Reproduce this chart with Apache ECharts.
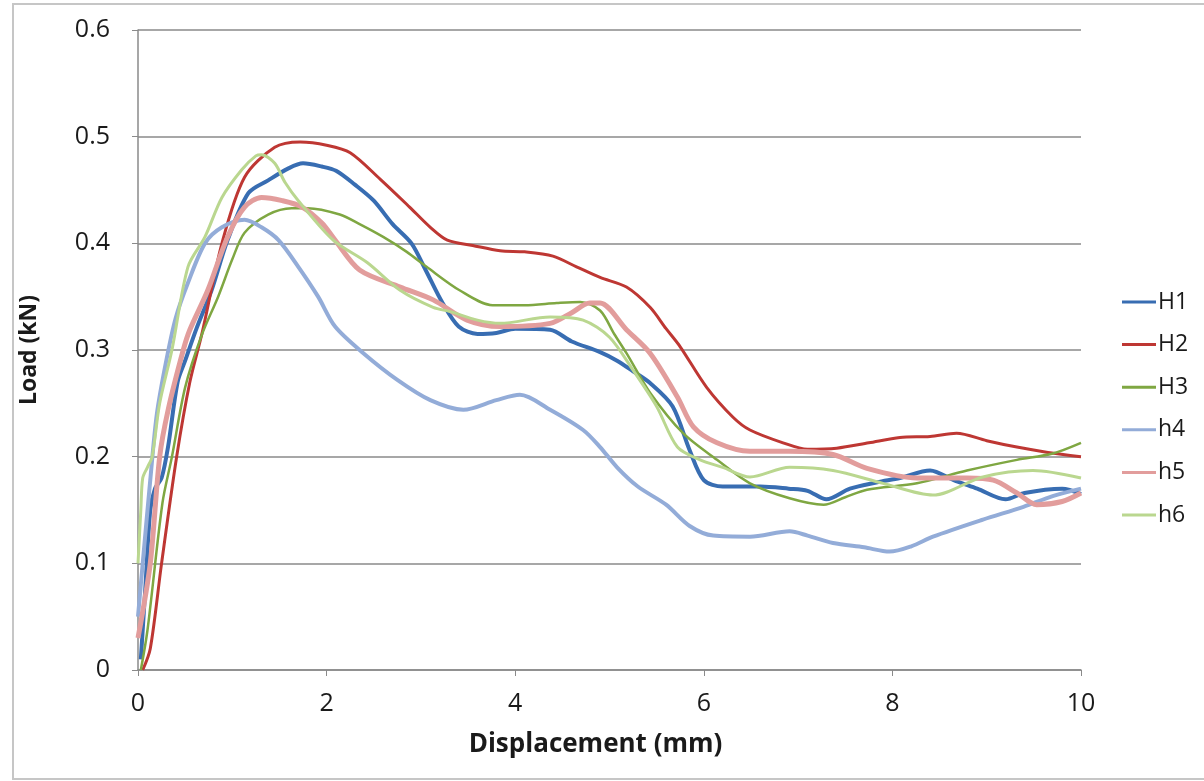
<!DOCTYPE html>
<html>
<head>
<meta charset="utf-8">
<script src="https://cdn.jsdelivr.net/npm/echarts@6/dist/echarts.min.js"></script>
<style>
  html, body { margin: 0; padding: 0; background: #fff; }
  #chart { width: 1204px; height: 781px; }
</style>
</head>
<body>
<div id="chart"></div>
<script>
// load–displacement curves, [displacement mm, load kN]
const seriesNames = ['H1', 'H2', 'H3', 'h4', 'h5', 'h6']
const seriesColors = ['#386db2', '#be3733', '#7fa742', '#93acd8', '#e29d9c', '#bad78f']
const seriesWidths = [4, 3, 2.5, 4, 5, 3]

const h1Data = [
  [0.03, 0.01], [0.08, 0.08], [0.13, 0.15], [0.18, 0.17], [0.25, 0.18], [0.32, 0.21],
  [0.42, 0.27], [0.5, 0.29], [0.62, 0.32], [0.78, 0.356], [0.95, 0.403], [1.17, 0.447],
  [1.38, 0.459], [1.59, 0.47], [1.75, 0.475], [1.95, 0.472], [2.1, 0.468], [2.3, 0.455],
  [2.5, 0.44], [2.7, 0.418], [2.9, 0.4], [3.05, 0.375], [3.23, 0.344], [3.4, 0.322],
  [3.6, 0.315], [3.8, 0.316], [4.0, 0.32], [4.37, 0.319], [4.6, 0.308], [4.9, 0.298],
  [5.08, 0.29], [5.25, 0.28], [5.43, 0.269], [5.67, 0.247], [5.85, 0.206], [6.0, 0.178],
  [6.2, 0.172], [6.6, 0.172], [6.9, 0.17], [7.1, 0.168], [7.3, 0.16], [7.55, 0.17],
  [7.84, 0.176], [8.08, 0.18], [8.4, 0.187], [8.65, 0.178], [8.9, 0.17], [9.2, 0.16],
  [9.4, 0.166], [9.8, 0.17], [10.0, 0.165]
]
const h2Data = [
  [0.05, 0.0], [0.13, 0.02], [0.25, 0.1], [0.41, 0.2], [0.55, 0.27], [0.68, 0.316],
  [0.89, 0.4], [1.13, 0.462], [1.45, 0.49], [1.72, 0.495], [2.0, 0.492], [2.25, 0.485],
  [2.57, 0.46], [2.88, 0.434], [3.1, 0.415], [3.28, 0.403], [3.55, 0.398], [3.84, 0.393],
  [4.1, 0.392], [4.4, 0.388], [4.65, 0.378], [4.9, 0.368], [5.18, 0.359], [5.43, 0.34],
  [5.6, 0.32], [5.75, 0.303], [6.03, 0.265], [6.31, 0.237], [6.49, 0.225], [6.84, 0.213],
  [7.1, 0.207], [7.41, 0.208], [7.75, 0.213], [8.08, 0.218], [8.4, 0.219], [8.68, 0.222],
  [9.0, 0.215], [9.32, 0.209], [9.65, 0.204], [10.0, 0.2]
]
const h3Data = [
  [0.03, 0.0], [0.1, 0.037], [0.26, 0.157], [0.36, 0.2], [0.5, 0.265], [0.68, 0.315],
  [0.85, 0.35], [1.0, 0.385], [1.13, 0.41], [1.38, 0.427], [1.63, 0.433], [1.8, 0.433],
  [2.14, 0.427], [2.35, 0.418], [2.6, 0.406], [2.85, 0.392], [3.06, 0.378], [3.41, 0.356],
  [3.76, 0.342], [4.1, 0.342], [4.44, 0.344], [4.69, 0.345], [4.9, 0.337], [5.05, 0.315],
  [5.18, 0.297], [5.43, 0.26], [5.78, 0.222], [6.14, 0.197], [6.49, 0.175], [6.91, 0.161],
  [7.27, 0.155], [7.5, 0.162], [7.73, 0.169], [8.26, 0.175], [8.79, 0.187], [9.32, 0.197],
  [9.7, 0.203], [10.0, 0.213]
]
const h4Data = [
  [0.0, 0.05], [0.05, 0.1], [0.13, 0.178], [0.2, 0.24], [0.3, 0.29], [0.4, 0.33],
  [0.53, 0.363], [0.71, 0.4], [0.89, 0.415], [1.13, 0.422], [1.31, 0.415], [1.49, 0.403],
  [1.7, 0.378], [1.91, 0.35], [2.09, 0.322], [2.39, 0.297], [2.75, 0.272], [3.1, 0.253],
  [3.45, 0.244], [3.8, 0.253], [4.05, 0.258], [4.37, 0.244], [4.72, 0.225], [4.9, 0.209],
  [5.08, 0.19], [5.3, 0.172], [5.6, 0.155], [5.85, 0.135], [6.1, 0.126], [6.49, 0.125],
  [6.91, 0.13], [7.1, 0.126], [7.37, 0.119], [7.7, 0.115], [7.97, 0.111], [8.2, 0.116],
  [8.43, 0.125], [8.96, 0.141], [9.39, 0.153], [9.7, 0.163], [10.0, 0.17]
]
const h5Data = [
  [0.0, 0.03], [0.13, 0.1], [0.23, 0.2], [0.32, 0.244], [0.48, 0.3], [0.55, 0.319],
  [0.74, 0.356], [0.95, 0.406], [1.13, 0.434], [1.31, 0.443], [1.53, 0.44], [1.74, 0.434],
  [1.95, 0.419], [2.09, 0.403], [2.35, 0.375], [2.78, 0.359], [3.13, 0.347], [3.49, 0.328],
  [3.84, 0.322], [4.37, 0.325], [4.6, 0.335], [4.79, 0.344], [4.9, 0.344], [5.18, 0.319],
  [5.43, 0.297], [5.72, 0.256], [5.89, 0.228], [6.14, 0.213], [6.49, 0.205], [6.9, 0.205],
  [7.37, 0.202], [7.73, 0.189], [8.26, 0.18], [8.79, 0.18], [9.07, 0.178], [9.32, 0.166],
  [9.53, 0.155], [9.8, 0.158], [10.0, 0.166]
]
const h6Data = [
  [0.0, 0.1], [0.03, 0.15], [0.05, 0.18], [0.1, 0.19], [0.15, 0.2], [0.23, 0.25],
  [0.36, 0.3], [0.53, 0.378], [0.71, 0.406], [0.89, 0.443], [1.1, 0.469], [1.25, 0.482],
  [1.31, 0.483], [1.45, 0.475], [1.56, 0.457], [1.7, 0.44], [2.07, 0.403], [2.43, 0.382],
  [2.78, 0.356], [3.13, 0.34], [3.31, 0.336], [3.6, 0.328], [3.84, 0.325], [4.37, 0.331],
  [4.72, 0.328], [5.0, 0.312], [5.25, 0.281], [5.5, 0.247], [5.72, 0.209], [5.96, 0.197],
  [6.2, 0.19], [6.49, 0.181], [6.91, 0.19], [7.37, 0.187], [7.9, 0.175], [8.43, 0.164],
  [8.96, 0.181], [9.49, 0.187], [10.0, 0.18]
]
const allData = [h1Data, h2Data, h3Data, h4Data, h5Data, h6Data]

const xTicks = [0, 2, 4, 6, 8, 10]
const yTicks = [0, 0.1, 0.2, 0.3, 0.4, 0.5, 0.6]

const chart = echarts.init(document.getElementById('chart'))
const font = 'Open Sans'

chart.setOption({
  animation: false,
  backgroundColor: '#fff',
  textStyle: { fontFamily: font },
  grid: { left: 138, right: 123, top: 30, bottom: 111 },
  graphic: [{
    type: 'rect',
    shape: { x: 13, y: 4, width: 1200, height: 775 },
    style: { fill: null, stroke: '#c6c6c6', lineWidth: 2 },
    silent: true,
  }],
  legend: {
    orient: 'vertical',
    left: 1117,
    top: 285,
    itemWidth: 34,
    itemHeight: 3,
    itemGap: 18.6,
    icon: 'rect',
    data: seriesNames,
    textStyle: { fontSize: 23, lineHeight: 24, color: '#1a1a1a', fontFamily: font, padding: [0, 0, 0, -3] },
  },
  xAxis: {
    type: 'value',
    min: 0,
    max: 10,
    interval: 2,
    name: 'Displacement (mm)',
    nameLocation: 'middle',
    nameGap: 62,
    nameTextStyle: { fontSize: 26, fontWeight: 'bold', color: '#1a1a1a', padding: [0, 28, 0, 0] },
    axisLine: { lineStyle: { color: '#8a8a8a', width: 1.5 } },
    axisTick: { show: true, length: 6, lineStyle: { color: '#8a8a8a' } },
    axisLabel: { fontSize: 25, color: '#1a1a1a', margin: 21, formatter: v => xTicks.includes(v) ? String(v) : '' },
    splitLine: { show: false },
  },
  yAxis: {
    type: 'value',
    min: 0,
    max: 0.6,
    interval: 0.1,
    name: 'Load (kN)',
    nameLocation: 'middle',
    nameGap: 97,
    nameRotate: 90,
    nameTextStyle: { fontSize: 23, fontWeight: 'bold', color: '#1a1a1a' },
    axisLine: { show: true, lineStyle: { color: '#8a8a8a', width: 1.5 } },
    axisTick: { show: true, length: 6, lineStyle: { color: '#8a8a8a' } },
    axisLabel: {
      fontSize: 25, color: '#1a1a1a', margin: 28,
      formatter: v => { const t = yTicks.find(k => Math.abs(k - v) < 1e-9); return t === undefined ? '' : String(t) },
    },
    splitLine: { show: true, lineStyle: { color: '#8a8a8a', width: 1.5 } },
  },
  series: seriesNames.map((name, i) => ({
    type: 'line',
    name,
    data: allData[i],
    symbol: 'none',
    smooth: 0.3,
    color: seriesColors[i],
    lineStyle: { color: seriesColors[i], width: seriesWidths[i] },
  })),
})
</script>
</body>
</html>
